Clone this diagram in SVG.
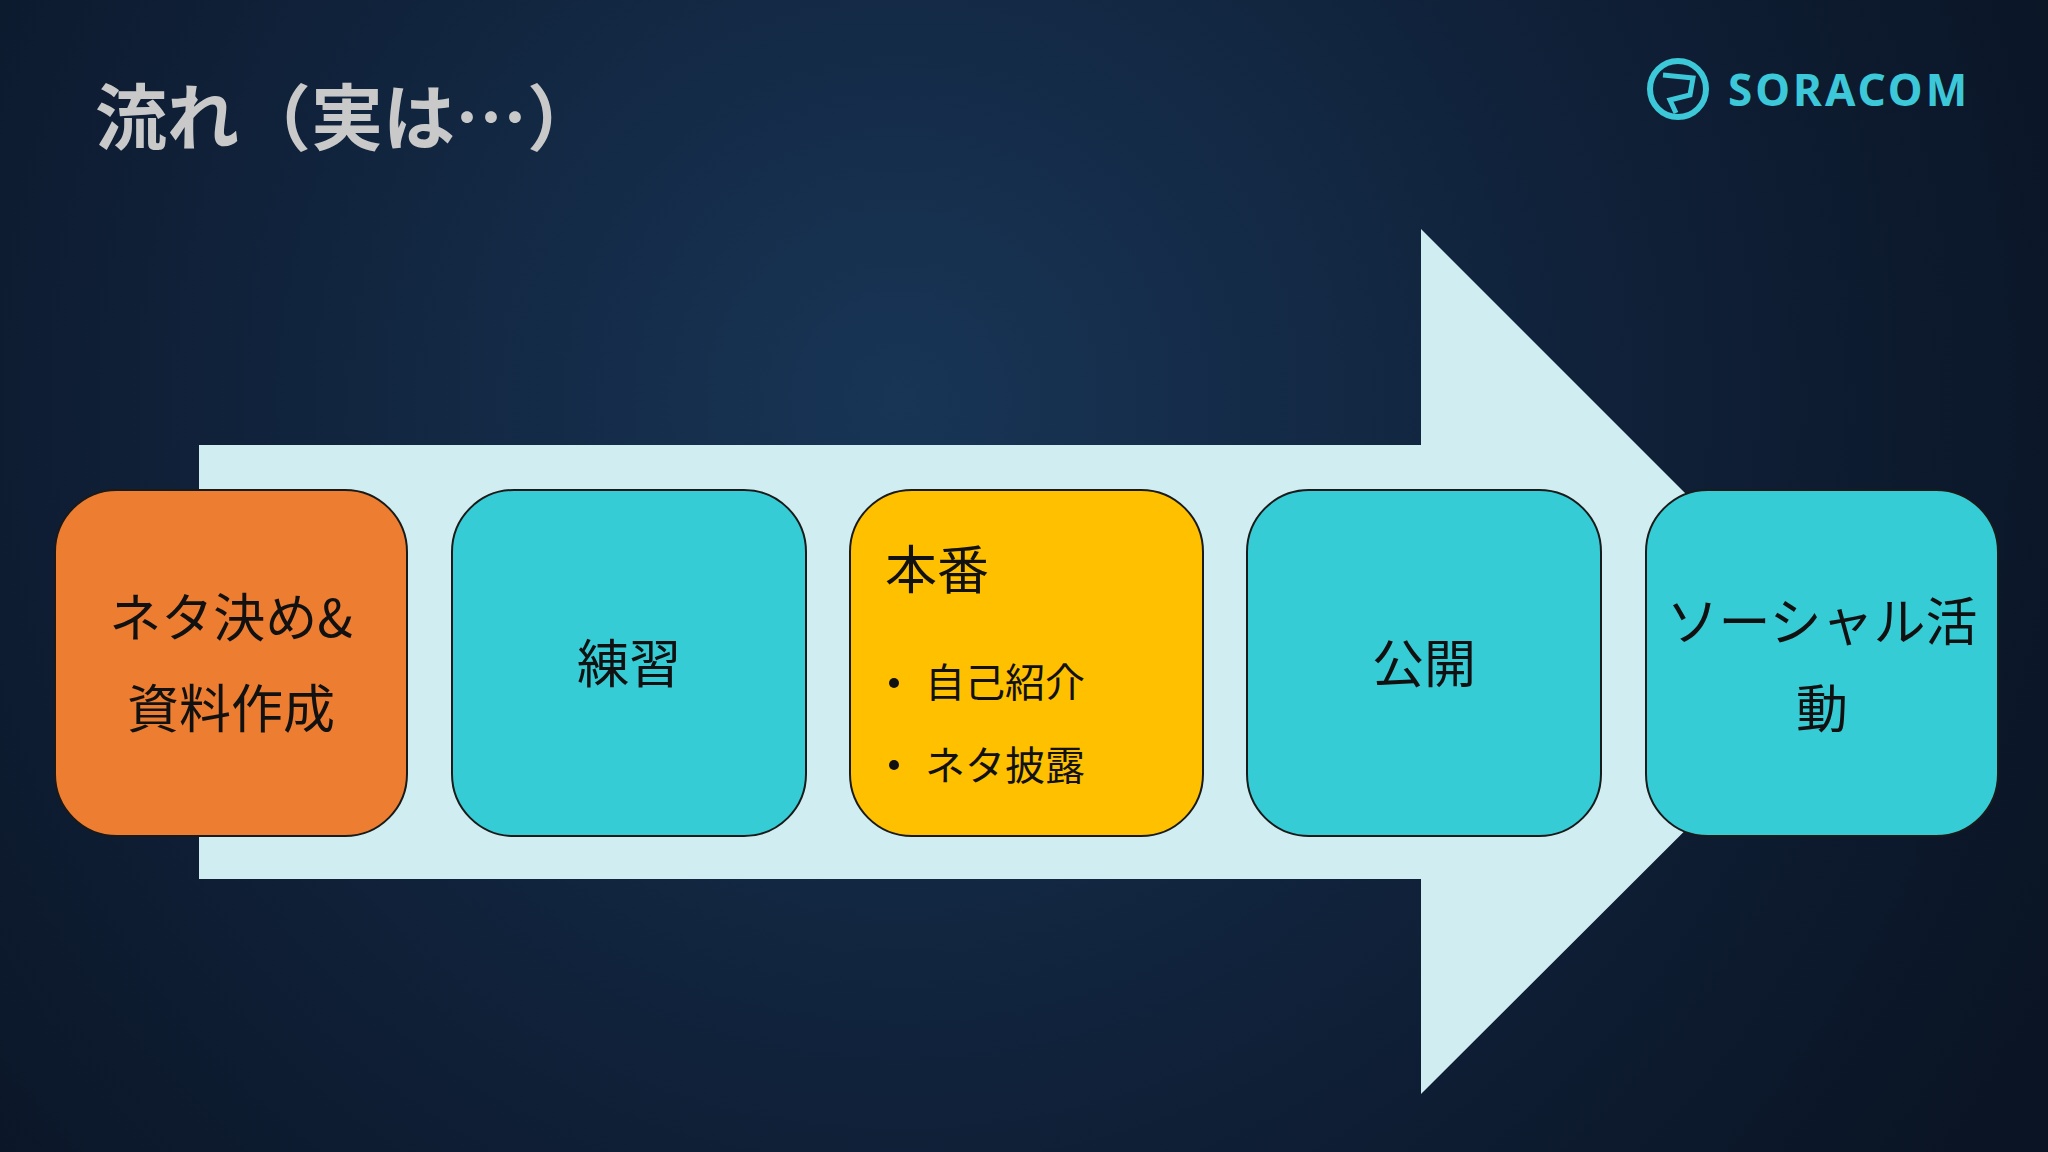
<svg xmlns="http://www.w3.org/2000/svg" width="2048" height="1152" viewBox="0 0 2048 1152">
<defs>
<radialGradient id="bg" cx="900" cy="400" r="1300" gradientUnits="userSpaceOnUse">
<stop offset="0" stop-color="#183556"/><stop offset="0.6" stop-color="#0f1f36"/><stop offset="1" stop-color="#0a1424"/>
</radialGradient>
<style>
.box{stroke:#1a1a1a;stroke-width:2}
.t{font-family:"Noto Sans CJK JP","Noto Sans",sans-serif;font-size:52px;fill:#111;text-anchor:middle;dominant-baseline:central}
.s{font-family:"Noto Sans CJK JP","Noto Sans",sans-serif;font-size:40px;fill:#111;dominant-baseline:central}
</style>
</defs>
<rect width="2048" height="1152" fill="url(#bg)"/>
<text x="95" y="112" font-family="'Noto Sans CJK JP',sans-serif" font-weight="bold" font-size="72" fill="#c9c9c9" dominant-baseline="central">流れ（実は…）</text>
<g id="logo">
<circle cx="1678" cy="89" r="28" fill="none" stroke="#3cc8d8" stroke-width="6"/>
<path d="M1663 75 L1693 78 L1690 95 L1670 100 L1676 113" fill="none" stroke="#3cc8d8" stroke-width="5"/>
<text x="1728" y="89" font-family="'Noto Sans',sans-serif" font-weight="bold" font-size="44" letter-spacing="3" fill="#3cc8d8" dominant-baseline="central">SORACOM</text>
</g>
<g id="arrow">
<polygon points="199,445 1421,445 1421,229 1854,662 1421,1094 1421,879 199,879" fill="#d0eef2"/>
</g>
<g id="n1"><rect class="box" x="55" y="490" width="352" height="346" rx="62" fill="#ed7d31"/>
<text class="t" x="231" y="614">ネタ決め&amp;</text><text class="t" x="231" y="705">資料作成</text></g>
<g id="n2"><rect class="box" x="452" y="490" width="354" height="346" rx="62" fill="#36ccd6"/>
<text class="t" x="629" y="660">練習</text></g>
<g id="n3"><rect class="box" x="850" y="490" width="353" height="346" rx="62" fill="#ffc000"/>
<text class="t" x="885" y="566" style="text-anchor:start">本番</text>
<circle cx="894" cy="683" r="5" fill="#111"/><text class="s" x="925" y="680">自己紹介</text>
<circle cx="894" cy="765" r="5" fill="#111"/><text class="s" x="925" y="763">ネタ披露</text></g>
<g id="n4"><rect class="box" x="1247" y="490" width="354" height="346" rx="62" fill="#36ccd6"/>
<text class="t" x="1424" y="660">公開</text></g>
<g id="n5"><rect class="box" x="1646" y="490" width="352" height="346" rx="62" fill="#36ccd6"/>
<text class="t" x="1822" y="618">ソーシャル活</text><text class="t" x="1822" y="705">動</text></g>
<g id="connectors"/>
</svg>
